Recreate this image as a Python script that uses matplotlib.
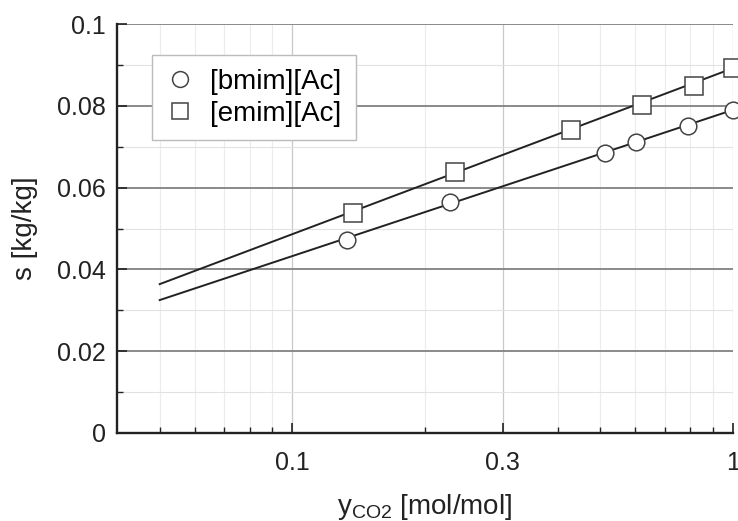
import matplotlib
matplotlib.use("Agg")
import matplotlib.pyplot as plt
import numpy as np
from matplotlib.ticker import FixedLocator, NullFormatter, FixedFormatter, MultipleLocator

plt.rcParams['font.family'] = ['Liberation Sans', 'DejaVu Sans']

# measured points
bmim_x = [0.133, 0.228, 0.513, 0.603, 0.791, 1.0]
bmim_s = [0.0472, 0.0565, 0.0685, 0.0711, 0.0751, 0.0790]
emim_x = [0.137, 0.234, 0.429, 0.622, 0.816, 1.0]
emim_s = [0.0538, 0.0638, 0.0741, 0.0802, 0.0848, 0.0892]

# fitted lines (end points)
fit_x = [0.05, 1.0]
bmim_fit = [0.0325, 0.0790]
emim_fit = [0.0364, 0.0892]

x_ticks = [0.1, 0.3, 1]
x_tick_labels = ['0.1', '0.3', '1']
x_minor = [0.05, 0.06, 0.07, 0.08, 0.09, 0.2, 0.4, 0.5, 0.6, 0.7, 0.8, 0.9]
y_ticks = [0, 0.02, 0.04, 0.06, 0.08, 0.1]
y_tick_labels = ['0', '0.02', '0.04', '0.06', '0.08', '0.1']

fig = plt.figure(figsize=(7.38, 5.21), dpi=100)
ax = fig.add_axes([117/738, 1 - 433/521, (733-117)/738, (433-24)/521])

ax.set_xscale('log')
ax.set_xlim(0.04, 1.0)
ax.set_ylim(0, 0.1)

ax.xaxis.set_major_locator(FixedLocator(x_ticks))
ax.xaxis.set_major_formatter(FixedFormatter(x_tick_labels))
ax.xaxis.set_minor_locator(FixedLocator(x_minor))
ax.xaxis.set_minor_formatter(NullFormatter())
ax.set_yticks(y_ticks)
ax.set_yticklabels(y_tick_labels)
ax.yaxis.set_minor_locator(MultipleLocator(0.01))

# grid
ax.grid(axis='y', which='major', color='#8a8a8a', lw=1.4, zorder=0)
ax.grid(axis='y', which='minor', color='#e2e2e2', lw=0.8, zorder=0)
ax.grid(axis='x', which='major', color='#c8c8c8', lw=0.9, zorder=0)
ax.grid(axis='x', which='minor', color='#ececec', lw=0.8, zorder=0)
ax.set_axisbelow(True)

for side in ['top', 'right']:
    ax.spines[side].set_visible(False)
for side in ['left', 'bottom']:
    ax.spines[side].set_linewidth(1.7)
    ax.spines[side].set_color('#222222')

ax.tick_params(which='both', direction='in', labelsize=18, colors='#222222')
ax.tick_params(which='major', length=7, width=1.2)
ax.tick_params(which='minor', length=4, width=1.0)
ax.tick_params(axis='x', pad=13)
ax.tick_params(axis='y', pad=8)

ax.plot(fit_x, bmim_fit, color='#222222', lw=1.4, zorder=2)
ax.plot(fit_x, emim_fit, color='#222222', lw=1.4, zorder=2)
ax.plot(bmim_x, bmim_s, 'o', ms=12, mfc='white', mec='#444444', mew=1.1,
        label='[bmim][Ac]', zorder=3, clip_on=False)
ax.plot(emim_x, emim_s, 's', ms=12.5, mfc='white', mec='#444444', mew=1.1,
        label='[emim][Ac]', zorder=3, clip_on=False)

leg = ax.legend(loc='upper left', bbox_to_anchor=(0.057, 0.924), fontsize=20,
                fancybox=False, framealpha=1, edgecolor='#bbbbbb',
                handlelength=1.0, handletextpad=0.6, borderpad=0.5,
                labelspacing=0.2, markerscale=0.95, borderaxespad=0)
leg.get_frame().set_linewidth(1.0)

ax.set_xlabel(r'y$_{\mathregular{CO2}}$ [mol/mol]', fontsize=20, labelpad=12, color='#222222')
ax.set_ylabel('s [kg/kg]', fontsize=20, labelpad=14, color='#222222')

fig.savefig('out.png', dpi=100)
